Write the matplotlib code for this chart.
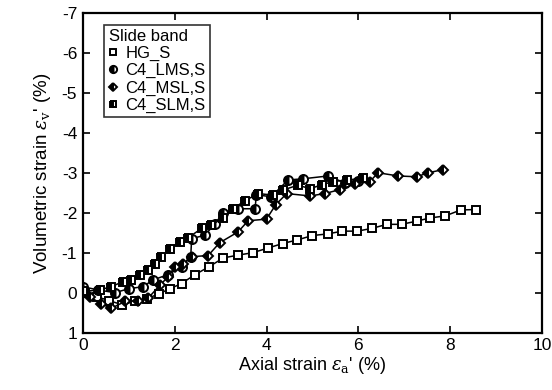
import numpy as np
import matplotlib
matplotlib.use("Agg")
import matplotlib.pyplot as plt

plt.rcParams['font.family'] = ['Liberation Sans', 'DejaVu Sans']
plt.rcParams['mathtext.fontset'] = 'dejavuserif'
plt.rcParams['axes.unicode_minus'] = False

## Data (axial strain %, volumetric strain %)
hg_x = [0.05, 0.3, 0.58, 0.85, 1.13, 1.4, 1.65, 1.9, 2.15, 2.44, 2.75, 3.06, 3.38, 3.7,
        4.04, 4.35, 4.67, 5.0, 5.33, 5.65, 5.98, 6.3, 6.62, 6.94, 7.27, 7.56, 7.89, 8.23, 8.56]
hg_y = [0.0, 0.1, 0.2, 0.3, 0.22, 0.15, 0.03, -0.1, -0.23, -0.45, -0.65, -0.87, -0.94, -1.0,
        -1.12, -1.23, -1.32, -1.43, -1.47, -1.54, -1.54, -1.61, -1.71, -1.71, -1.79, -1.87, -1.92, -2.07, -2.08]

lms_x = [0.0, 0.33, 0.7, 1.0, 1.31, 1.53, 1.85, 2.15, 2.35, 2.37, 2.66, 2.88, 3.06, 3.38,
         3.75, 3.78, 4.1, 4.47, 4.8, 5.34, 5.7, 6.0]
lms_y = [-0.15, -0.07, 0.0, -0.1, -0.15, -0.32, -0.45, -0.65, -0.9, -1.35, -1.44, -1.73, -2.0, -2.1,
         -2.1, -2.45, -2.4, -2.82, -2.85, -2.92, -2.75, -2.8]

msl_x = [0.0, 0.15, 0.4, 0.62, 0.92, 1.2, 1.42, 1.68, 1.86, 2.0, 2.19, 2.37, 2.73, 2.98,
         3.38, 3.6, 4.0, 4.2, 4.44, 4.95, 5.27, 5.6, 5.93, 6.25, 6.43, 6.87, 7.27, 7.52, 7.85]
msl_y = [0.0, 0.1, 0.28, 0.39, 0.22, 0.2, 0.14, -0.19, -0.4, -0.65, -0.73, -0.9, -0.93, -1.25,
         -1.52, -1.8, -1.84, -2.2, -2.48, -2.42, -2.48, -2.58, -2.72, -2.78, -3.0, -2.92, -2.9, -3.0, -3.08]

slm_x = [0.0, 0.37, 0.62, 0.88, 1.06, 1.24, 1.42, 1.57, 1.71, 1.9, 2.11, 2.3, 2.59, 2.8,
         3.06, 3.27, 3.53, 3.82, 4.15, 4.36, 4.69, 4.95, 5.2, 5.45, 5.75, 6.1]
slm_y = [-0.03, -0.07, -0.15, -0.28, -0.32, -0.44, -0.57, -0.73, -0.9, -1.1, -1.28, -1.38, -1.61, -1.7,
         -1.86, -2.1, -2.3, -2.48, -2.44, -2.57, -2.69, -2.6, -2.7, -2.78, -2.82, -2.86]

labels = ['HG_S', 'C4_LMS,S', 'C4_MSL,S', 'C4_SLM,S']

fig = plt.figure(figsize=(5.52, 3.9), dpi=100)
ax = fig.add_axes([0.150, 0.147, 0.832, 0.820])

base = dict(color='black', lw=1.1, mec='black', mew=1.4)
ax.plot(hg_x, hg_y, marker='s', ms=6, mfc='white', label=labels[0], **base)
ax.plot(lms_x, lms_y, marker='o', ms=6.5, fillstyle='left', mfc='black', mfcalt='white',
        label=labels[1], **base)
ax.plot(msl_x, msl_y, marker='D', ms=5.5, fillstyle='left', mfc='black', mfcalt='white',
        label=labels[2], **base)
ax.plot(slm_x, slm_y, marker='s', ms=6, fillstyle='left', mfc='black', mfcalt='white',
        label=labels[3], **base)

ax.set_xlim(0, 10)
ax.set_ylim(1, -7)
ax.set_xticks([0, 2, 4, 6, 8, 10])
ax.set_yticks([1, 0, -1, -2, -3, -4, -5, -6, -7])
ax.tick_params(direction='in', top=True, right=True, length=5, width=1.2, labelsize=12.5, pad=4)
for s in ax.spines.values():
    s.set_linewidth(1.6)

ax.set_xlabel("Axial strain $\\varepsilon_\\mathrm{a}$' (%)", fontsize=13, labelpad=1)
ax.set_ylabel("Volumetric strain $\\varepsilon_\\mathrm{v}$' (%)", fontsize=13.5, labelpad=6)

leg = ax.legend(title='Slide band', loc='upper left', bbox_to_anchor=(0.047, 0.962),
                fontsize=12, title_fontsize=12, frameon=True, fancybox=False,
                edgecolor='black', handlelength=0.5, handletextpad=0.5,
                borderpad=0.25, labelspacing=0.12, borderaxespad=0, markerscale=0.8)
leg.get_frame().set_linewidth(1.2)
leg._legend_box.align = 'left'
for h in leg.legend_handles:
    h.set_linestyle('none')

fig.savefig('out.png', dpi=100)
